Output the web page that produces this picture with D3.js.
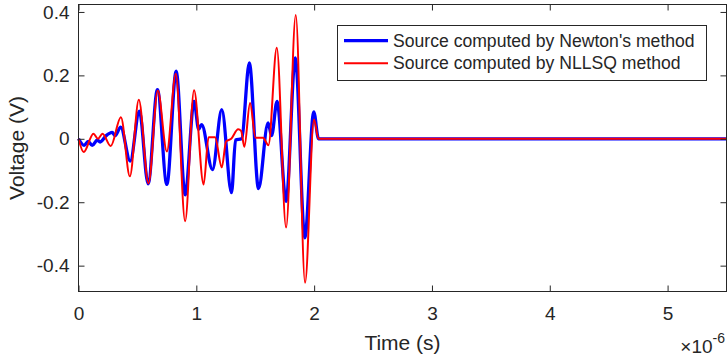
<!DOCTYPE html>
<html><head><meta charset="utf-8">
<script src="https://cdn.jsdelivr.net/npm/d3@7"></script>
<style>body{margin:0;background:#fff}svg{display:block}text{font-family:"Liberation Sans",Arial,Helvetica,sans-serif;fill:#262626}</style>
</head><body><svg id="c" width="728" height="360"></svg>
<script>
// time in microseconds (axis shows x 10^-6 s), voltage in V
const newtonT = [0,0.048,0.082,0.116,0.159,0.184,0.235,0.286,0.311,0.358,0.439,0.517,0.591,0.670,0.750,0.829,0.905,0.981,1.020,1.045,1.137,1.216,1.299,1.333,1.384,1.450,1.528,1.609,1.639,1.685,1.762,1.840,1.921,1.997,2.037,5.5];
const newtonV = [0,-0.021,-0.008,-0.021,-0.004,-0.010,0.010,0.020,0.010,0.037,-0.070,0.087,-0.142,0.155,-0.144,0.213,-0.177,0.118,0.030,0.045,-0.097,0.092,-0.170,-0.004,0.000,0.239,-0.157,0.050,0.010,0.118,-0.197,0.255,-0.312,0.085,0,0];
const nllsqT = [0,0.044,0.127,0.165,0.204,0.273,0.360,0.436,0.512,0.594,0.673,0.750,0.826,0.905,0.981,1.062,1.104,1.159,1.216,1.253,1.296,1.355,1.380,1.408,1.456,1.503,1.566,1.612,1.683,1.762,1.844,1.923,1.999,2.037,5.5];
const nllsqV = [0,-0.042,0.016,0.000,0.016,-0.023,0.068,-0.118,0.123,-0.141,0.152,-0.040,0.205,-0.260,0.153,-0.144,0.005,0.005,-0.090,-0.008,0.000,0.030,0.025,-0.025,0.113,0.003,0.003,-0.020,0.287,-0.280,0.390,-0.454,0.061,0,0];
const xTicks = [0,1,2,3,4,5];
const yTicks = [-0.4,-0.2,0,0.2,0.4];
const yTickLabels = ["-0.4","-0.2","0","0.2","0.4"];
const seriesNames = ["Source computed by Newton's method","Source computed by NLLSQ method"];
const seriesColors = ["#0000ff","#ff0000"];

const svg = d3.select("#c");
const L=78.5, R=726.5, T=4.5, B=291.5;
const x = d3.scaleLinear().domain([0,5.5]).range([L,R]);
const y = d3.scaleLinear().domain([-0.4815,0.4235]).range([B,T]);
const axisCol="#262626";

// data lines
const line = d3.line().x(d=>x(d[0])).y(d=>y(d[1])).curve(d3.curveMonotoneX);
const g = svg.append("g");
g.append("path").datum(newtonT.map((t,i)=>[t,newtonV[i]]))
 .attr("d",line).attr("fill","none").attr("stroke",seriesColors[0]).attr("stroke-width",3.3).attr("stroke-linejoin","round");
g.append("path").datum(nllsqT.map((t,i)=>[t,nllsqV[i]]))
 .attr("d",line).attr("fill","none").attr("stroke",seriesColors[1]).attr("stroke-width",2).attr("stroke-linejoin","round");

// axes
const tl=6;
const ax = svg.append("g").attr("transform",`translate(0,${B})`)
 .call(d3.axisBottom(x).tickValues(xTicks).tickFormat(d3.format("d")).tickSizeInner(-tl).tickSizeOuter(0).tickPadding(15));
const axT = svg.append("g").attr("transform",`translate(0,${T})`)
 .call(d3.axisTop(x).tickValues(xTicks).tickFormat("").tickSizeInner(-tl).tickSizeOuter(0));
const ay = svg.append("g").attr("transform",`translate(${L},0)`)
 .call(d3.axisLeft(y).tickValues(yTicks).tickFormat((d,i)=>yTickLabels[i]).tickSizeInner(-tl).tickSizeOuter(0).tickPadding(9));
const ayR = svg.append("g").attr("transform",`translate(${R},0)`)
 .call(d3.axisRight(y).tickValues(yTicks).tickFormat("").tickSizeInner(-tl).tickSizeOuter(0));
[ax,axT,ay,ayR].forEach(a=>{
  a.select(".domain").remove();
  a.selectAll("line").attr("stroke",axisCol);
  a.selectAll("text").attr("font-size",19).attr("fill",axisCol).style("font-family",'"Liberation Sans",Arial,sans-serif');
});
svg.append("rect").attr("x",L).attr("y",T).attr("width",R-L).attr("height",B-T)
 .attr("fill","none").attr("stroke",axisCol).attr("stroke-width",1);

// axis labels
svg.append("text").attr("x",(L+R)/2).attr("y",350).attr("text-anchor","middle").attr("font-size",21).text("Time (s)");
svg.append("text").attr("transform",`translate(24,${(T+B)/2}) rotate(-90)`).attr("text-anchor","middle").attr("font-size",21).text("Voltage (V)");
const ex = svg.append("text").attr("x",725).attr("y",353).attr("text-anchor","end").attr("font-size",19);
ex.append("tspan").text("\u00d710");
ex.append("tspan").attr("dy",-10).attr("font-size",14).text("-6");

// legend
const lg = svg.append("g");
lg.append("rect").attr("x",337.5).attr("y",25.5).attr("width",369).attr("height",55)
 .attr("fill","#fff").attr("stroke",axisCol).attr("stroke-width",1);
seriesNames.forEach((n,i)=>{
  const yy = 40.7 + i*22.6;
  lg.append("line").attr("x1",344).attr("x2",388).attr("y1",yy).attr("y2",yy)
    .attr("stroke",seriesColors[i]).attr("stroke-width",i===0?3.3:2);
  lg.append("text").attr("x",393).attr("y",yy).attr("dy","0.35em").attr("font-size",17.6).text(n);
});
</script></body></html>
